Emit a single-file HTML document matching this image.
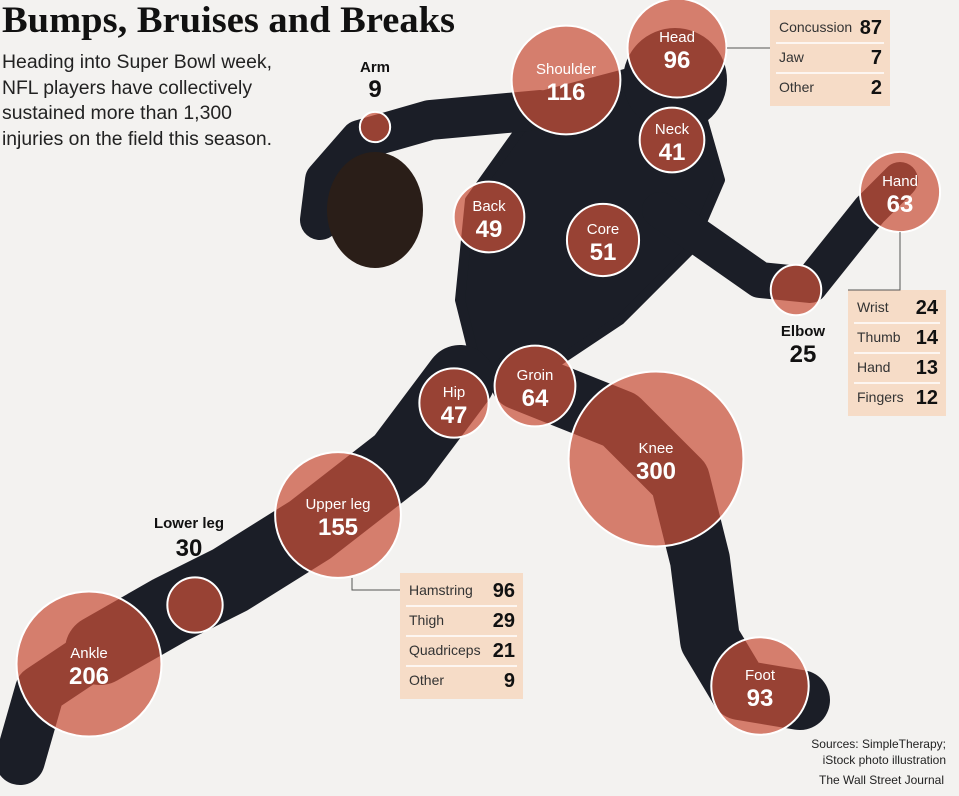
<!DOCTYPE html>
<html><head><meta charset="utf-8"><style>
body{margin:0;background:#f3f2f0;width:959px;height:796px;overflow:hidden;font-family:"Liberation Sans",sans-serif}
svg{display:block}
</style></head><body>
<svg id="chart" width="959" height="796" viewBox="0 0 959 796">
<rect width="959" height="796" fill="#f3f2f0"/>
<g fill="#1b1e27" stroke="#1b1e27" stroke-linecap="round" stroke-linejoin="round">
<path d="M545 95 L640 70 L700 110 L720 180 L690 250 L620 320 L560 360 L480 380 L460 300 L470 200 Z" stroke-width="10"/>
<path d="M540 110 L430 120 L360 140 L325 180 L320 220" fill="none" stroke-width="40"/>
<ellipse cx="375" cy="210" rx="48" ry="58" fill="#2a1e18" stroke="none"/>
<path d="M660 210 L760 280 L810 285 L870 210 L900 180" fill="none" stroke-width="36"/>
<circle cx="675" cy="80" r="52" stroke="none"/>
<path d="M460 380 L400 460 L310 530 L230 580 L170 610 L100 650" fill="none" stroke-width="70"/>
<path d="M100 650 L40 690 L20 760" fill="none" stroke-width="50"/>
<path d="M520 380 L620 420 L680 480 L700 560 L710 640 L740 690 L800 700" fill="none" stroke-width="60"/>
</g>
<g id="bubbles"></g>
<text x="2" y="32" font-family="Liberation Serif,serif" font-weight="bold" font-size="37" textLength="453" lengthAdjust="spacingAndGlyphs" fill="#111">Bumps, Bruises and Breaks</text>
<g font-size="19" fill="#222">
<text x="2" y="68" textLength="270" lengthAdjust="spacingAndGlyphs">Heading into Super Bowl week,</text>
<text x="2" y="94" textLength="250" lengthAdjust="spacingAndGlyphs">NFL players have collectively</text>
<text x="2" y="119" textLength="230" lengthAdjust="spacingAndGlyphs">sustained more than 1,300</text>
<text x="2" y="145" textLength="270" lengthAdjust="spacingAndGlyphs">injuries on the field this season.</text>
</g>
<g id="tables"></g>
<g stroke="#555" fill="none" stroke-width="1">
<path d="M727 48 H770"/><path d="M900 232 V290 H848"/><path d="M352 578 V590 H400"/>
</g>
<g font-size="12" fill="#222" text-anchor="end">
<text x="946" y="748">Sources: SimpleTherapy;</text>
<text x="946" y="764">iStock photo illustration</text>
<text x="944" y="784">The Wall Street Journal</text>
</g>
</svg>
<script>
const parts=["Head","Shoulder","Neck","Arm","Back","Core","Hand","Elbow","Groin","Hip","Knee","Upper leg","Lower leg","Ankle","Foot"];
const injuries=[96,116,41,9,49,51,63,25,64,47,300,155,30,206,93];
const cx=[677,566,672,375,489,603,900,796,535,454,656,338,195,89,760];
const cy=[48,80,140,127,217,240,192,290,386,403,459,515,605,664,686];
const headKeys=["Concussion","Jaw","Other"],headVals=[87,7,2];
const handKeys=["Wrist","Thumb","Hand","Fingers"],handVals=[24,14,13,12];
const legKeys=["Hamstring","Thigh","Quadriceps","Other"],legVals=[96,29,21,9];
const NS="http://www.w3.org/2000/svg";
const rScale=v=>5.05*Math.sqrt(v);
const g=document.getElementById('bubbles');
function mk(t,a,p){const e=document.createElementNS(NS,t);for(const k in a)e.setAttribute(k,a[k]);p.appendChild(e);return e;}
const outside={"Arm":[375,72,97],"Elbow":[803,336,362],"Lower leg":[189,528,556]};
parts.forEach((p,i)=>{
 const r=rScale(injuries[i]);
 const c=mk('circle',{cx:cx[i],cy:cy[i],r:r,fill:'#c9503a','fill-opacity':0.72,stroke:'#fff','stroke-width':2},g);
 
 
 let lx=cx[i],ly1=cy[i]-6,ly2=cy[i]+20,col='#fff';
 if(outside[p]){[lx,ly1,ly2]=outside[p];col='#111';}
 const t1=mk('text',{x:lx,y:ly1,'text-anchor':'middle','font-size':15,fill:col,'font-weight':outside[p]?'bold':'normal'},g);t1.textContent=p;
 
 
 const t2=mk('text',{x:lx,y:ly2,'text-anchor':'middle','font-size':24,'font-weight':'bold',fill:col},g);t2.textContent=injuries[i];
 
 
});
const tg=document.getElementById('tables');
function table(x,y,w,keys,vals,name){
 const b=mk('rect',{x:x,y:y,width:w,height:keys.length*30+6,fill:'#f6dcc7'},tg);
 
 
 keys.forEach((k,i)=>{
  const yy=y+22+i*30;
  if(i>0)mk('line',{x1:x+6,x2:x+w-6,y1:yy-19,y2:yy-19,stroke:'#fff','stroke-width':1.5},tg);
  const a=mk('text',{x:x+9,y:yy,'font-size':14,fill:'#333'},tg);a.textContent=k;
  
  
  const v=mk('text',{x:x+w-8,y:yy+2,'font-size':20,'font-weight':'bold','text-anchor':'end',fill:'#111'},tg);v.textContent=vals[i];
  
  
 });
}
table(770,10,120,headKeys,headVals,'head-table');
table(848,290,98,handKeys,handVals,'hand-table');
table(400,573,123,legKeys,legVals,'upper-leg-table');
</script>
</body></html>
